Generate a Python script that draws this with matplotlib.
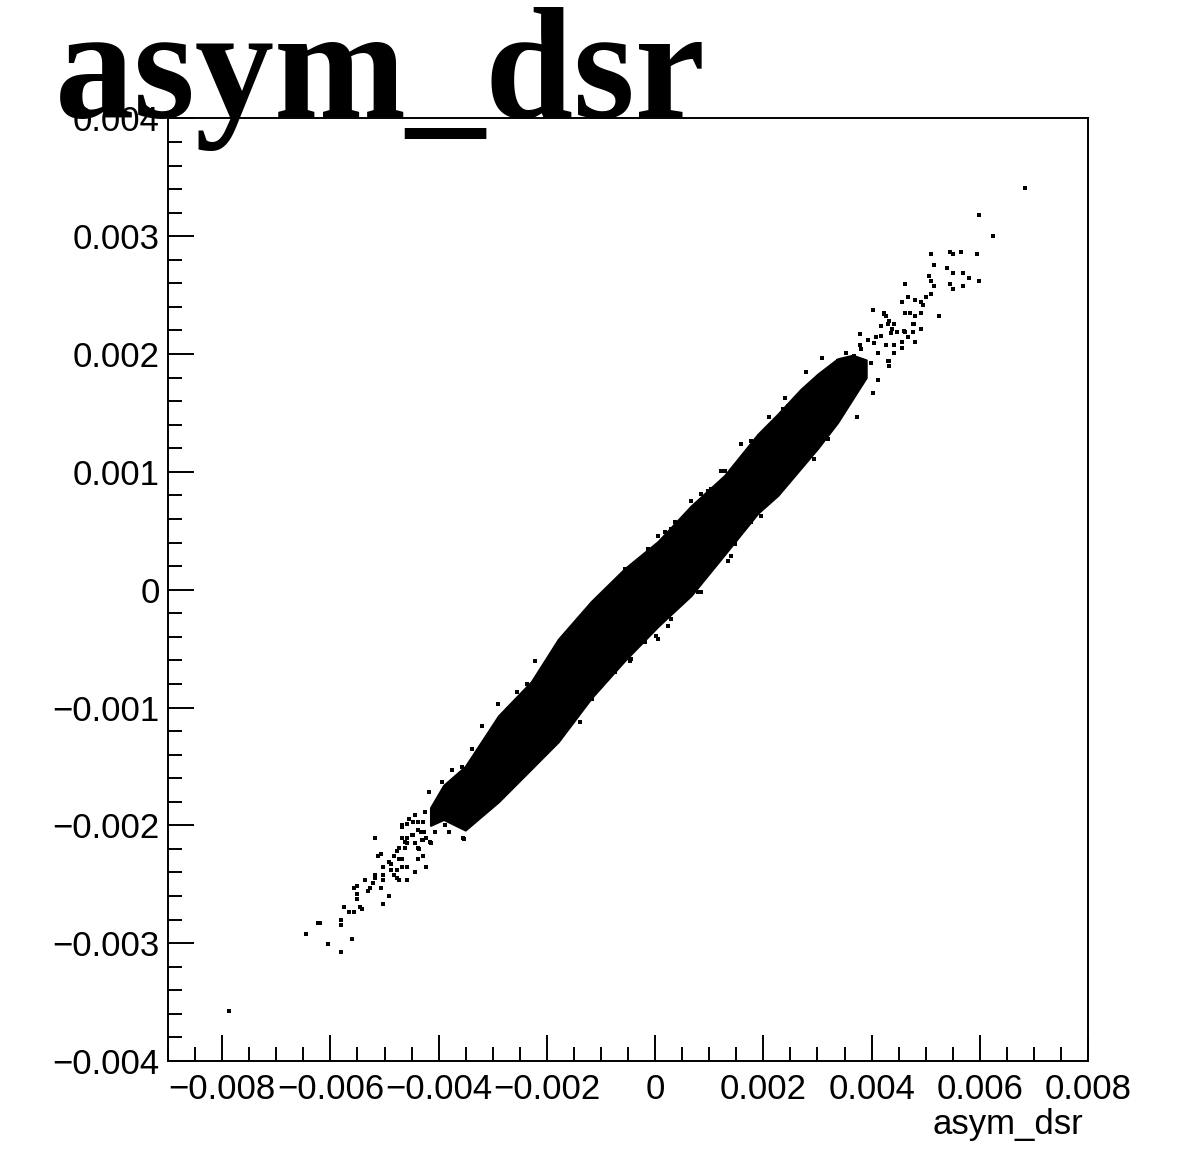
import numpy as np
import matplotlib
matplotlib.use("Agg")
import matplotlib.pyplot as plt
from matplotlib.ticker import MultipleLocator, FuncFormatter

# ============================================================
# asym_dsr correlation scatter (values in units of 1e-3)
# ============================================================

# dense core of the band: x, lower edge, upper edge
band_x  = [-4.150, -3.908, -3.508, -2.894, -2.286, -1.788, -1.180, -0.559, 0.055,
           0.664, 1.285, 1.899, 2.267, 2.691, 3.005, 3.373, 3.650, 3.900]
band_lo = [-2.000, -1.950, -2.040, -1.800, -1.520, -1.290, -0.920, -0.600, -0.310,
           -0.050, 0.300, 0.650, 0.800, 1.030, 1.200, 1.420, 1.620, 1.800]
band_hi = [-1.850, -1.660, -1.500, -1.070, -0.780, -0.420, -0.100, 0.180, 0.410,
           0.710, 0.970, 1.320, 1.490, 1.700, 1.830, 1.960, 1.990, 1.950]

# sparse lower-left tail
low_x = [-7.871, -6.446, -6.225, -6.199, -6.046, -5.806, -5.806, -5.806, -5.609, -5.757,
         -5.659, -5.561, -5.462, -5.414, -5.512, -5.512, -5.561, -5.512, -5.364, -5.314,
         -5.266, -5.217, -5.167, -5.167, -5.069, -5.019, -4.922, -5.019, -5.019, -5.019,
         -5.119, -5.069, -5.167, -4.872, -4.872, -4.824, -4.774, -4.724, -4.577, -4.429,
         -4.577, -4.676, -4.774, -4.922, -4.824, -4.724, -4.676, -4.774, -4.724, -4.627,
         -4.577, -4.676, -4.577, -4.479, -4.429, -4.382, -4.382, -4.282, -4.234, -4.676,
         -4.577, -4.479, -4.382, -4.382, -4.282, -4.332, -4.234, -4.135, -4.282, -3.545,
         -4.676, -4.553, -4.429, -4.245, -4.369, -4.184, -4.153, -3.939, -3.816, -3.755,
         -3.571, -3.539, -4.124, -4.000, -3.876, -4.061, -4.276, -4.492, -4.614, -4.308]
low_y = [-3.573, -2.918, -2.827, -2.827, -3.008, -3.076, -2.850, -2.805, -2.963, -2.692,
         -2.737, -2.737, -2.692, -2.714, -2.624, -2.579, -2.534, -2.511, -2.466, -2.556,
         -2.534, -2.488, -2.420, -2.443, -2.534, -2.669, -2.602, -2.466, -2.420, -2.353,
         -2.263, -2.240, -2.104, -2.375, -2.331, -2.420, -2.443, -2.466, -2.466, -2.398,
         -2.353, -2.353, -2.375, -2.308, -2.263, -2.285, -2.285, -2.217, -2.195, -2.195,
         -2.149, -2.104, -2.104, -2.081, -2.149, -2.195, -2.285, -2.263, -2.353, -2.014,
         -1.992, -1.969, -1.969, -2.036, -1.969, -2.059, -2.104, -2.149, -2.127, -2.104,
         -2.000, -1.943, -1.915, -1.886, -2.197, -1.717, -2.141, -1.632, -2.056, -1.534,
         -1.505, -2.113, -1.943, -1.831, -2.000, -2.056, -2.056, -2.085, -2.141, -2.127]

# speckle along both edges of the band
edge_x = [-3.386, -3.202, -3.202, -3.078, -2.894, -2.710, -2.557, -2.372, -2.218, -2.372,
          -2.218, -2.033, -1.727, -1.543, -2.894, -2.586, -1.543, -1.051, -0.559, -0.129,
          0.300, 0.669, 0.977, 1.222, 1.591, 1.775, 2.267, -2.341, -1.388, -1.174,
          -0.743, -0.437, 0.024, 0.300, 0.853, 1.346, 1.469, 1.775, 1.959, 2.391,
          2.944, 3.189, -1.419, -1.019, -0.682, -0.466, -0.313, 0.055, 0.179, 0.363,
          0.547, 0.853, 1.038, 1.285, -0.682, -0.466, -0.190, 0.055, 0.240, 0.424,
          0.547, 0.793, 1.100, 1.285, 1.406, 1.683]
edge_y = [-1.350, -1.153, -1.802, -1.774, -0.969, -1.011, -0.869, -0.799, -0.602, -1.519,
          -1.435, -1.322, -1.181, -1.011, -1.576, -1.492, -0.333, -0.079, 0.175, 0.345,
          0.514, 0.754, 0.839, 1.008, 1.235, 1.263, 1.419, -1.519, -1.124, -0.926,
          -0.700, -0.587, -0.390, -0.248, -0.022, 0.246, 0.387, 0.571, 0.627, 0.938,
          1.108, 1.277, -0.276, -0.136, 0.034, 0.091, 0.190, 0.458, 0.486, 0.571,
          0.627, 0.811, 0.853, 1.008, -0.545, -0.602, -0.446, -0.418, -0.305, -0.136,
          -0.064, -0.022, 0.317, 0.331, 0.288, 0.599]

# sparse upper-right tail
up_x = [6.826, 5.991, 6.236, 5.941, 5.646, 5.451, 5.499, 5.106, 5.156, 5.401,
        5.499, 5.696, 5.794, 5.991, 5.696, 5.499, 5.451, 5.056, 5.106, 5.156,
        5.106, 5.008, 4.909, 4.959, 5.253, 4.909, 4.811, 4.713, 4.614, 4.614,
        4.566, 4.664, 4.811, 4.024, 4.221, 4.271, 4.418, 4.369, 4.466, 4.614,
        4.761, 4.761, 4.909, 4.811, 4.664, 4.566, 4.418, 4.271, 4.319, 4.171,
        3.779, 3.926, 4.074, 4.418, 4.566, 4.319, 4.319, 4.124, 4.024, 3.729,
        3.091, 2.796, 3.779, 3.534, 2.402, 2.107, 2.354, 2.697, 2.452, 3.386,
        4.221, 4.295, 4.603, 4.787, 4.356, 4.171, 4.050, 3.803, 4.111, 4.295,
        3.987, 3.681, 3.558, 3.742, 3.865, 3.618, 4.018, 3.497]
up_y = [3.410, 3.184, 3.003, 2.845, 2.868, 2.868, 2.845, 2.845, 2.754, 2.732,
        2.686, 2.686, 2.642, 2.619, 2.574, 2.551, 2.597, 2.664, 2.619, 2.574,
        2.506, 2.483, 2.438, 2.415, 2.325, 2.347, 2.325, 2.347, 2.597, 2.347,
        2.438, 2.483, 2.461, 2.370, 2.347, 2.325, 2.258, 2.212, 2.190, 2.190,
        2.258, 2.190, 2.212, 2.099, 2.144, 2.099, 2.076, 2.076, 2.280, 2.235,
        2.167, 2.122, 2.144, 2.008, 2.054, 1.941, 1.896, 1.783, 1.669, 1.466,
        1.964, 1.851, 2.076, 2.008, 1.625, 1.466, 1.534, 1.669, 1.557, 1.941,
        2.336, 2.252, 2.195, 2.252, 2.181, 2.153, 2.097, 2.040, 2.012, 1.941,
        1.927, 1.983, 1.927, 1.842, 1.786, 1.673, 1.673, 1.758]

scale = 1e-3
bx = np.array(band_x) * scale
blo = np.array(band_lo) * scale
bhi = np.array(band_hi) * scale
px = np.concatenate([low_x, edge_x, up_x]) * scale
py = np.concatenate([low_y, edge_y, up_y]) * scale

# ============================================================
# Plot (ROOT-like canvas)
# ============================================================
plt.rcParams['font.family'] = ['Liberation Sans', 'DejaVu Sans']
fig = plt.figure(figsize=(11.85, 11.53), dpi=100)
ax = fig.add_axes([0.1418, 0.0798, 0.7764, 0.8175])

ax.fill_between(bx, blo, bhi, color='black', lw=1.5, edgecolor='black')
ax.scatter(px, py, marker='s', s=5, c='black', linewidths=0)

ax.set_xlim(-0.009, 0.008)
ax.set_ylim(-0.004, 0.004)

ax.xaxis.set_major_locator(MultipleLocator(0.002))
ax.xaxis.set_minor_locator(MultipleLocator(0.0005))
ax.yaxis.set_major_locator(MultipleLocator(0.001))
ax.yaxis.set_minor_locator(MultipleLocator(0.0002))


def fmt(v, pos):
    if abs(v) < 1e-12:
        return '0'
    return f'{v:.3f}'.replace('-', '\u2212')


ax.xaxis.set_major_formatter(FuncFormatter(fmt))
ax.yaxis.set_major_formatter(FuncFormatter(fmt))

ax.tick_params(which='both', direction='in', top=False, right=False,
               width=1.4, labelsize=25, colors='black')
ax.tick_params(which='major', length=19)
ax.tick_params(which='minor', length=10)
ax.tick_params(axis='x', which='major', pad=9)
ax.tick_params(axis='y', which='major', pad=6)
for s in ax.spines.values():
    s.set_linewidth(1.4)

fig.text(1083 / 1185, 1 - 1134 / 1153, 'asym_dsr', ha='right', va='baseline',
         fontsize=25)
fig.text(55 / 1185, 1 - 117 / 1153, 'asym_dsr', ha='left', va='baseline',
         fontsize=114, fontweight='bold', family=['Liberation Serif', 'DejaVu Serif'],
         zorder=5)

fig.savefig('out.png', dpi=100, facecolor='white')
